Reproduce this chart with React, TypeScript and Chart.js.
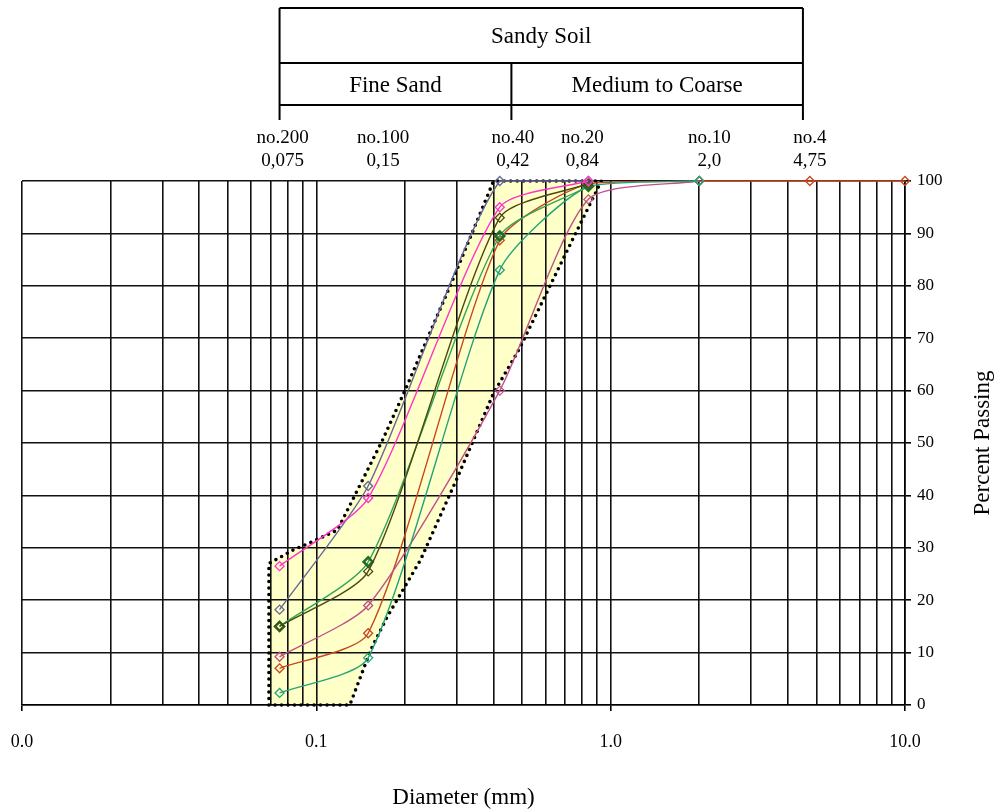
import React, { useEffect, useRef } from 'react';
import { Chart, registerables } from 'chart.js';

Chart.register(...registerables);

// Sieve sizes (mm) and their names
const sieveSizes = [0.075, 0.15, 0.42, 0.84, 2.0, 4.75, 10];
const sieveNames = ['no.200', 'no.100', 'no.40', 'no.20', 'no.10', 'no.4'];
const sieveSizeLabels = ['0,075', '0,15', '0,42', '0,84', '2,0', '4,75'];

// Percent passing for each sample (values at sieveSizes, in order)
const samplePink = [26.5, 39.5, 95, 100];
const sampleGrayBlue = [18.2, 41.8, 100, 100];
const sampleOlive = [15, 25.5, 93, 99.5];
const sampleGreen = [15, 27.3, 89.5, 99];
const sampleTeal = [2.3, 9, 83, 99, 100];
const sampleMauve = [9.2, 19, 60, 96.5, 100];
const sampleOrange = [7, 13.7, 88.7, 99.5, 100, 100, 100];

// Envelope (sandy soil band) outline
const envelopeSize = [0.069, 0.069, 0.0835, 0.0955, 0.118, 0.168, 0.2, 0.29, 0.4, 0.93, 0.73, 0.49, 0.4, 0.302, 0.226, 0.174, 0.153, 0.13, 0.069];
const envelopePassing = [0, 27, 29.6, 31, 33.4, 50.6, 60, 81, 100, 100, 88, 68, 59.5, 43.5, 27.7, 16.8, 10.5, 0, 0];

// Soil classification header
const classTop = { name: 'Sandy Soil', from: 0.075, to: 4.5 };
const classBands = [
  { name: 'Fine Sand', from: 0.075, to: 0.46 },
  { name: 'Medium to Coarse', from: 0.46, to: 4.5 },
];

// Axis settings
const xMin = 0.01;
const xMax = 10;
const yTickLabels = [0, 10, 20, 30, 40, 50, 60, 70, 80, 90, 100];

const FONT = "'Liberation Serif', 'Times New Roman', serif";

function isPow10(v: number) {
  const l = Math.log10(v);
  return Math.abs(l - Math.round(l)) < 1e-9;
}

function toPoints(values: number[]) {
  return values.map((v, i) => ({ x: sieveSizes[i], y: v }));
}

function series(values: number[], color: string, markerWidth = 1.3) {
  return {
    data: toPoints(values),
    showLine: true,
    borderColor: color,
    backgroundColor: 'rgba(255,255,255,0)',
    borderWidth: 1.4,
    pointStyle: 'rectRot',
    pointRadius: 4.5,
    pointBorderColor: color,
    pointBackgroundColor: 'rgba(255,255,255,0)',
    pointBorderWidth: markerWidth,
    tension: 0.22,
    clip: false,
    fill: false,
  };
}

const headerPlugin = {
  id: 'header',
  afterDraw(chart: any) {
    const { ctx } = chart;
    const xs = chart.scales.x;
    const px = (v: number) => xs.getPixelForValue(v);
    ctx.save();
    ctx.strokeStyle = '#000';
    ctx.lineWidth = 2;
    const L = px(classTop.from);
    const R = px(classTop.to);
    const yTop = 8, yMid = 63, yBot = 105, yEnd = 120;
    ctx.beginPath();
    ctx.moveTo(L, yTop); ctx.lineTo(R, yTop);
    ctx.moveTo(L, yMid); ctx.lineTo(R, yMid);
    ctx.moveTo(L, yBot); ctx.lineTo(R, yBot);
    ctx.moveTo(L, yTop); ctx.lineTo(L, yEnd);
    ctx.moveTo(R, yTop); ctx.lineTo(R, yEnd);
    classBands.forEach((b, i) => {
      if (i > 0) {
        const x = px(b.from);
        ctx.moveTo(x, yMid); ctx.lineTo(x, yEnd);
      }
    });
    ctx.stroke();

    ctx.fillStyle = '#000';
    ctx.textAlign = 'center';
    ctx.textBaseline = 'middle';
    ctx.font = `23px ${FONT}`;
    ctx.fillText(classTop.name, (L + R) / 2, 37);
    classBands.forEach((b) => {
      ctx.fillText(b.name, (px(b.from) + px(b.to)) / 2, 86);
    });

    // sieve labels
    const nudge = [3, 15, 13, -6, 10, 0];
    ctx.font = `19px ${FONT}`;
    sieveNames.forEach((n, i) => {
      const x = px(sieveSizes[i]) + nudge[i];
      ctx.fillText(n, x, 138);
      ctx.fillText(sieveSizeLabels[i], x, 161);
    });

    // right axis title (reads bottom to top)
    const ca = chart.chartArea;
    ctx.translate(983, (ca.top + ca.bottom) / 2);
    ctx.rotate(-Math.PI / 2);
    ctx.font = `23px ${FONT}`;
    ctx.fillText('Percent Passing', 0, 0);
    ctx.restore();
  },
};

export default function App() {
  const ref = useRef<HTMLCanvasElement>(null);

  useEffect(() => {
    if (!ref.current) return;
    const gridValues: number[] = [];
    for (let e = Math.log10(xMin); e < Math.log10(xMax); e++) {
      for (let m = 1; m <= 9; m++) gridValues.push(parseFloat((m * Math.pow(10, e)).toPrecision(6)));
    }
    gridValues.push(xMax);

    const chart = new Chart(ref.current, {
      type: 'scatter',
      data: {
        datasets: [
          series(samplePink, '#FF33CC'),
          series(sampleGrayBlue, '#666699'),
          series(sampleOlive, '#4A4A10'),
          { ...series(sampleGreen, '#2FA65A'), pointBorderColor: '#1F6B2A', pointBorderWidth: 2.6 },
          series(sampleTeal, '#23A37A'),
          series(sampleMauve, '#C0508A'),
          series(sampleOrange, '#C8461E'),
          {
            data: envelopeSize.map((s, i) => ({ x: s, y: envelopePassing[i] })),
            showLine: true,
            borderColor: '#000',
            borderWidth: 3.6,
            borderDash: [0, 6.5],
            borderCapStyle: 'round',
            backgroundColor: '#FFFFC8',
            fill: 'shape',
            tension: 0,
            pointRadius: 0,
            clip: false,
          },
        ] as any,
      },
      options: {
        animation: false,
        responsive: false,
        maintainAspectRatio: false,
        layout: { padding: { top: 181, left: 22, right: 0, bottom: 0 } },
        plugins: {
          legend: { display: false },
          tooltip: { enabled: false },
          filler: { drawTime: 'beforeDraw' } as any,
        },
        scales: {
          x: {
            type: 'logarithmic',
            position: 'bottom',
            min: xMin,
            max: xMax,
            afterBuildTicks: (scale: any) => {
              scale.ticks = gridValues.map((v) => ({ value: v, major: isPow10(v) }));
            },
            afterFit: (scale: any) => {
              scale.height = 107;
              scale.paddingLeft = 0;
              scale.paddingRight = 0;
            },
            ticks: {
              autoSkip: false,
              maxRotation: 0,
              padding: 20,
              color: '#000',
              font: { family: FONT, size: 18 },
              callback: (v: any) => (isPow10(Number(v)) ? Number(v).toFixed(1) : ''),
            },
            grid: {
              color: '#111',
              lineWidth: 1.6,
              tickLength: 6,
              tickColor: (c: any) => (c.tick && isPow10(c.tick.value) ? '#000' : 'rgba(0,0,0,0)'),
            },
            border: { color: '#000', width: 1.6 },
            title: {
              display: true,
              text: 'Diameter (mm)',
              color: '#000',
              font: { family: FONT, size: 23 },
              padding: { top: 0, bottom: 0 },
            },
          },
          y: {
            type: 'linear',
            position: 'right',
            min: 0,
            max: 100,
            afterBuildTicks: (scale: any) => {
              scale.ticks = yTickLabels.map((v) => ({ value: v }));
            },
            afterFit: (scale: any) => {
              scale.width = 90;
              scale.paddingTop = 0;
              scale.paddingBottom = 0;
            },
            ticks: {
              padding: 6,
              color: '#000',
              font: { family: FONT, size: 17 },
            },
            grid: { color: '#111', lineWidth: 1.6, tickLength: 6, tickColor: '#000' },
            border: { color: '#000', width: 1.6 },
          },
        },
      } as any,
      plugins: [headerPlugin],
    });
    return () => chart.destroy();
  }, []);

  return (
    <div style={{ position: 'absolute', left: 0, top: 0, width: 995, height: 812, background: '#fff' }}>
      <canvas ref={ref} width={995} height={812} style={{ width: 995, height: 812, display: 'block' }} />
    </div>
  );
}
